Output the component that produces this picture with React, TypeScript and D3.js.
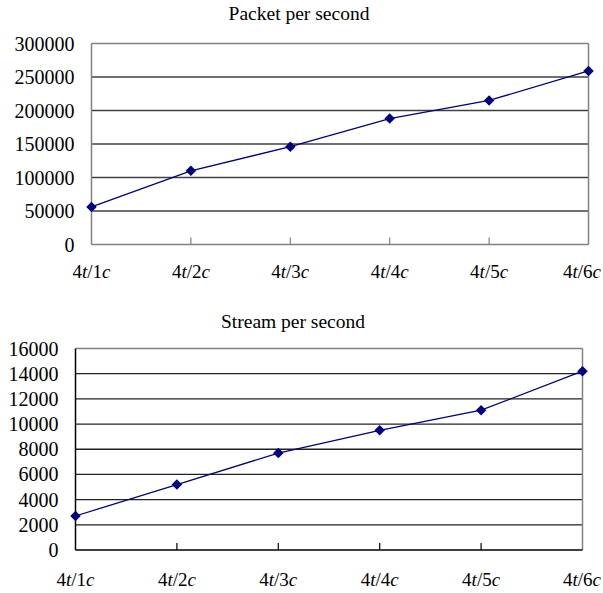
import React from 'react';
import * as d3 from 'd3';

const categories = ['1', '2', '3', '4', '5', '6'];
const packetValues = [56000, 110000, 146000, 188000, 215000, 259000];
const streamValues = [2700, 5200, 7700, 9500, 11100, 14200];
const packetTicks = [0, 50000, 100000, 150000, 200000, 250000, 300000];
const streamTicks = [0, 2000, 4000, 6000, 8000, 10000, 12000, 14000, 16000];

const FONT = '"Liberation Serif", "Times New Roman", serif';
const LINE = '#000080';

interface ChartProps {
  title: string;
  values: number[];
  ticks: number[];
  left: number;
  right: number;
  top: number;
  bottom: number;
  titleX: number;
  titleY: number;
  labelGap: number;
  axisColor: string;
  gridColor: string;
}

const LineChart: React.FC<ChartProps> = ({ title, values, ticks, left, right, top, bottom, titleX, titleY, labelGap, axisColor, gridColor }) => {
  const x = d3.scalePoint<string>().domain(categories).range([left, right]).padding(0);
  const y = d3.scaleLinear().domain([0, ticks[ticks.length - 1]]).range([bottom, top]);
  const data = categories.map((c, i) => ({ c, v: values[i] }));
  const line = d3.line<{ c: string; v: number }>()
    .x(d => x(d.c) as number)
    .y(d => y(d.v));
  const diamond = d3.symbol().type(d3.symbolDiamond2).size(70)() as string;
  const last = categories[categories.length - 1];

  return (
    <g>
      <text x={titleX} y={titleY} textAnchor="middle" fontSize={19.5} fontFamily={FONT} fill="#000">
        {title}
      </text>
      {/* grid */}
      {ticks.slice(1, -1).map(t => (
        <line key={t} x1={left} x2={right} y1={y(t)} y2={y(t)} stroke={gridColor} strokeWidth={1.3} />
      ))}
      {/* frame */}
      <line x1={left} x2={right} y1={top} y2={top} stroke="#808080" strokeWidth={1.5} />
      <line x1={right} x2={right} y1={top} y2={bottom} stroke="#808080" strokeWidth={1.5} />
      <line x1={left} x2={left} y1={top} y2={bottom} stroke={axisColor} strokeWidth={1.5} />
      <line x1={left} x2={right} y1={bottom} y2={bottom} stroke={axisColor} strokeWidth={1.5} />
      {categories.slice(1, -1).map(c => (
        <line key={c} x1={x(c)} x2={x(c)} y1={bottom} y2={bottom - 7} stroke={axisColor} strokeWidth={1.2} />
      ))}
      {/* y labels */}
      {ticks.map(t => (
        <text key={t} x={left - 17} y={y(t)} dy="0.35em" textAnchor="end" fontSize={20} fontFamily={FONT} fill="#000">
          {t}
        </text>
      ))}
      {/* x labels */}
      {categories.map(c => (
        <text key={c} x={c === last ? 601 : x(c)} y={bottom + labelGap}
          textAnchor={c === last ? 'end' : 'middle'} fontSize={19} fontFamily={FONT} fill="#000">
          4<tspan fontStyle="italic">t</tspan>/{c}<tspan fontStyle="italic">c</tspan>
        </text>
      ))}
      <path d={line(data) as string} fill="none" stroke={LINE} strokeWidth={1.3} />
      {data.map(d => (
        <path key={d.c} d={diamond} transform={`translate(${x(d.c)},${y(d.v)})`} fill={LINE} />
      ))}
    </g>
  );
};

export default function App() {
  return (
    <svg width={603} height={593} style={{ position: 'absolute', left: 0, top: 0, background: '#fff' }}>
      <rect width={603} height={593} fill="#fff" />
      <LineChart title="Packet per second" values={packetValues} ticks={packetTicks}
        left={91.5} right={588.5} top={43.5} bottom={244.5} titleX={299} titleY={20} labelGap={33}
        axisColor="#808080" gridColor="#404040" />
      <LineChart title="Stream per second" values={streamValues} ticks={streamTicks}
        left={75.5} right={582.5} top={348.5} bottom={550} titleX={293} titleY={328} labelGap={36}
        axisColor="#000" gridColor="#222" />
    </svg>
  );
}
